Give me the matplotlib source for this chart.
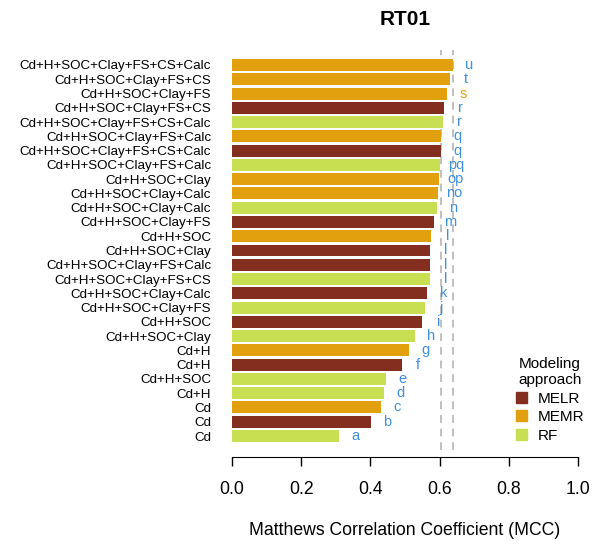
import matplotlib.pyplot as plt
from matplotlib.patches import Patch

plt.rcParams['font.family'] = ['Liberation Sans', 'DejaVu Sans']

# data, top to bottom
labels = [
    "Cd+H+SOC+Clay+FS+CS+Calc", "Cd+H+SOC+Clay+FS+CS", "Cd+H+SOC+Clay+FS",
    "Cd+H+SOC+Clay+FS+CS", "Cd+H+SOC+Clay+FS+CS+Calc", "Cd+H+SOC+Clay+FS+Calc",
    "Cd+H+SOC+Clay+FS+CS+Calc", "Cd+H+SOC+Clay+FS+Calc", "Cd+H+SOC+Clay",
    "Cd+H+SOC+Clay+Calc", "Cd+H+SOC+Clay+Calc", "Cd+H+SOC+Clay+FS",
    "Cd+H+SOC", "Cd+H+SOC+Clay", "Cd+H+SOC+Clay+FS+Calc",
    "Cd+H+SOC+Clay+FS+CS", "Cd+H+SOC+Clay+Calc", "Cd+H+SOC+Clay+FS",
    "Cd+H+SOC", "Cd+H+SOC+Clay", "Cd+H", "Cd+H", "Cd+H+SOC", "Cd+H",
    "Cd", "Cd", "Cd",
]
models = [
    "MEMR", "MEMR", "MEMR", "MELR", "RF", "MEMR", "MELR", "RF", "MEMR",
    "MEMR", "RF", "MELR", "MEMR", "MELR", "MELR", "RF", "MELR", "RF",
    "MELR", "RF", "MEMR", "MELR", "RF", "RF", "MEMR", "MELR", "RF",
]
mcc = [
    0.638, 0.630, 0.621, 0.612, 0.609, 0.604, 0.604, 0.601, 0.598,
    0.595, 0.592, 0.584, 0.575, 0.572, 0.572, 0.572, 0.564, 0.558,
    0.549, 0.529, 0.512, 0.491, 0.445, 0.439, 0.431, 0.402, 0.309,
]
groups = [
    "u", "t", "s", "r", "r", "q", "q", "pq", "op", "no", "n", "m", "l",
    "l", "l", "l", "k", "j", "i", "h", "g", "f", "e", "d", "c", "b", "a",
]
ref_lines = [0.605, 0.638]

colors = {"MELR": "#832e1f", "MEMR": "#e2a00f", "RF": "#c9df52"}
letter_blue = "#3f8fe3"

fig = plt.figure(figsize=(6, 5.44), dpi=100)
ax = fig.add_axes([232 / 600, 1 - 450 / 544, 346 / 600, 400 / 544])

# spine position first: moving it resets the ticks
for s in ["top", "right", "left"]:
    ax.spines[s].set_visible(False)
ax.spines["bottom"].set_position(("outward", 5))
ax.spines["bottom"].set_bounds(0, 1)

n = len(labels)
ypos = [n - 1 - i for i in range(n)]
ax.barh(ypos, mcc, height=0.84, color=[colors[m] for m in models])

for v in ref_lines:
    ax.axvline(v, color="#c0c0c0", ls=(0, (4, 3)), lw=1.4, zorder=0)

for y, v, g in zip(ypos, mcc, groups):
    c = "#e2a00f" if g == "s" else letter_blue
    ax.text(v + 0.047, y, g, color=c, fontsize=10.5, ha="center", va="center")

ax.set_xlim(0, 1)
ax.set_ylim(-0.98, n - 1 + 1.05)
ax.set_yticks(ypos)
ax.set_yticklabels(labels)
ax.tick_params(axis="y", length=0, pad=15, labelsize=9.6)
ax.set_xticks([0, 0.2, 0.4, 0.6, 0.8, 1.0])
ax.set_xticklabels(["0.0", "0.2", "0.4", "0.6", "0.8", "1.0"])
ax.tick_params(axis="x", length=6.5, width=1, pad=11, labelsize=12.7)
ax.set_xlabel("Matthews Correlation Coefficient (MCC)", fontsize=12.7, labelpad=17)
ax.set_title("RT01", fontsize=15, fontweight="bold", pad=18)

handles = [Patch(color=colors[k]) for k in ["MELR", "MEMR", "RF"]]
fig.legend(handles, ["MELR", "MEMR", "RF"], title="Modeling\napproach",
           loc="upper center", bbox_to_anchor=(550 / 600, 1 - 343 / 544),
           frameon=False, fontsize=11, title_fontsize=11,
           handlelength=0.7, handleheight=0.7, handletextpad=0.7,
           labelspacing=0.3)

fig.savefig("out.png", dpi=100)
